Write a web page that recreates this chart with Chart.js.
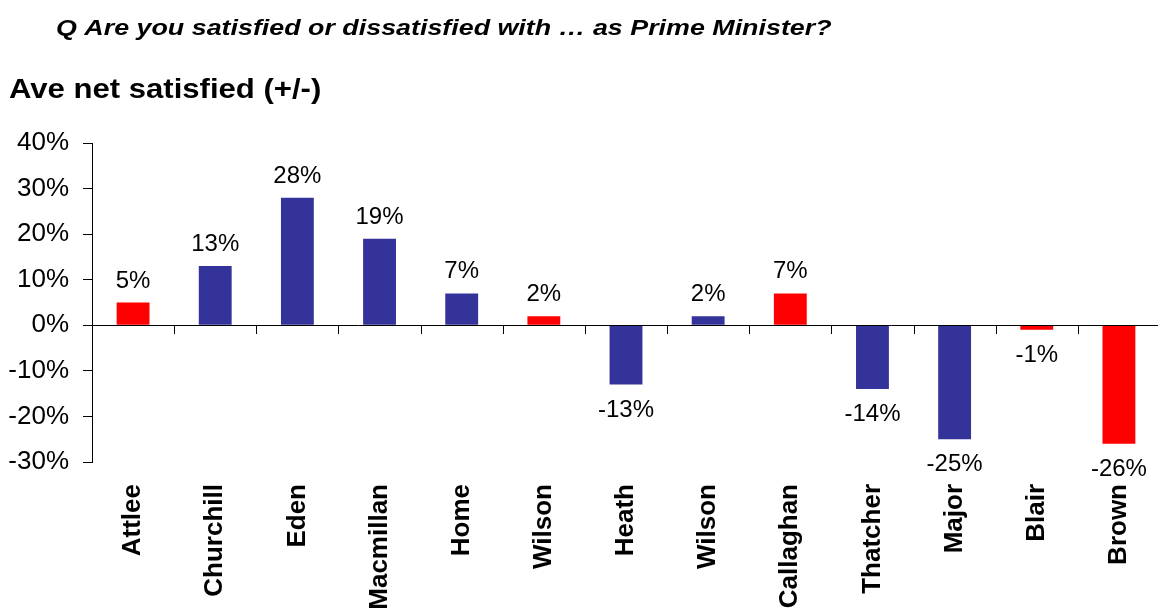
<!DOCTYPE html>
<html>
<head>
<meta charset="utf-8">
<script src="https://cdn.jsdelivr.net/npm/chart.js@4/dist/chart.umd.min.js"></script>
<style>
  html, body { margin: 0; padding: 0; background: #fff; }
  canvas { display: block; }
</style>
</head>
<body>
<canvas id="myChart" width="1160" height="616"></canvas>
<script>
// prime ministers, in order
var leaders = ['Attlee', 'Churchill', 'Eden', 'Macmillan', 'Home', 'Wilson', 'Heath',
               'Wilson', 'Callaghan', 'Thatcher', 'Major', 'Blair', 'Brown'];
// average net satisfied (+/-), percent
var netSatisfied = [5, 13, 28, 19, 7, 2, -13, 2, 7, -14, -25, -1, -26];
// party: L = Labour (red), C = Conservative (blue)
var party = ['L', 'C', 'C', 'C', 'C', 'L', 'C', 'C', 'L', 'C', 'C', 'L', 'L'];
var yTicks = [-30, -20, -10, 0, 10, 20, 30, 40];

var RED = '#FF0000';
var BLUE = '#333399';
var FONT = 'Arial, "Liberation Sans", sans-serif';

// draw a heading stretched sideways a little
function wideText(c, text, x, y, font, sx) {
    c.save();
    c.font = font;
    c.translate(x, y);
    c.scale(sx, 1);
    c.fillText(text, 0, 0);
    c.restore();
}

// headings, zero line with category ticks, value labels
var extras = {
    id: 'extras',
    beforeDraw: function(chart) {
        var c = chart.ctx;
        c.save();
        c.fillStyle = '#fff';
        c.fillRect(0, 0, chart.width, chart.height);
        c.fillStyle = '#000';
        c.textAlign = 'left';
        c.textBaseline = 'alphabetic';
        wideText(c, 'Q Are you satisfied or dissatisfied with \u2026 as Prime Minister?', 56, 35,
                 'italic bold 22px ' + FONT, 1.22);
        wideText(c, 'Ave net satisfied (+/-)', 9, 98, 'bold 28px ' + FONT, 1.11);
        c.restore();
    },
    afterDatasetsDraw: function(chart) {
        var c = chart.ctx;
        var xs = chart.scales.x;
        var y0 = Math.round(chart.scales.y.getPixelForValue(0));
        var area = chart.chartArea;
        c.save();
        c.strokeStyle = '#000';
        c.lineWidth = 1;
        c.beginPath();
        c.moveTo(area.left, y0 + 0.5);
        c.lineTo(area.right - 2, y0 + 0.5);
        for (var i = 0; i < leaders.length - 1; i++) {
            var edge = Math.round((xs.getPixelForTick(i) + xs.getPixelForTick(i + 1)) / 2);
            c.moveTo(edge + 0.5, y0);
            c.lineTo(edge + 0.5, y0 + 9);
        }
        c.stroke();

        c.fillStyle = '#000';
        c.font = '24px ' + FONT;
        c.textAlign = 'center';
        c.textBaseline = 'alphabetic';
        var meta = chart.getDatasetMeta(0);
        meta.data.forEach(function(bar, i) {
            var v = netSatisfied[i];
            var ty = v >= 0 ? bar.y - 15 : bar.y + 32;
            c.fillText(v + '%', bar.x, ty);
        });
        c.restore();
    }
};

var ctx = document.getElementById('myChart').getContext('2d');
var myChart = new Chart(ctx, {
    type: 'bar',
    data: {
        labels: leaders,
        datasets: [{
            label: 'Ave net satisfied',
            data: netSatisfied,
            backgroundColor: party.map(function(p) { return p === 'L' ? RED : BLUE; }),
            borderWidth: 0,
            categoryPercentage: 1,
            barPercentage: 0.4
        }]
    },
    options: {
        responsive: false,
        animation: false,
        layout: { padding: { top: 143, right: 0, left: 0, bottom: 0 } },
        plugins: {
            legend: { display: false },
            tooltip: { enabled: false }
        },
        scales: {
            x: {
                grid: { display: false },
                border: { display: false },
                ticks: {
                    color: '#000',
                    font: { family: FONT, size: 26, weight: 'bold' },
                    minRotation: 90,
                    maxRotation: 90,
                    autoSkip: false,
                    padding: 14
                },
                afterFit: function(scale) {
                    scale.height = 154;
                    scale.paddingLeft = 0;
                    scale.paddingRight = 0;
                }
            },
            y: {
                min: -30,
                max: 40,
                afterBuildTicks: function(scale) {
                    scale.ticks = yTicks.map(function(v) { return { value: v }; });
                },
                grid: {
                    drawOnChartArea: false,
                    drawTicks: true,
                    tickLength: 9,
                    color: '#000'
                },
                border: { display: true, color: '#000', width: 1 },
                ticks: {
                    color: '#000',
                    font: { family: FONT, size: 26 },
                    padding: 14,
                    callback: function(v) { return v + '%'; }
                },
                afterFit: function(scale) { scale.width = 92; }
            }
        }
    },
    plugins: [extras]
});
</script>
</body>
</html>
